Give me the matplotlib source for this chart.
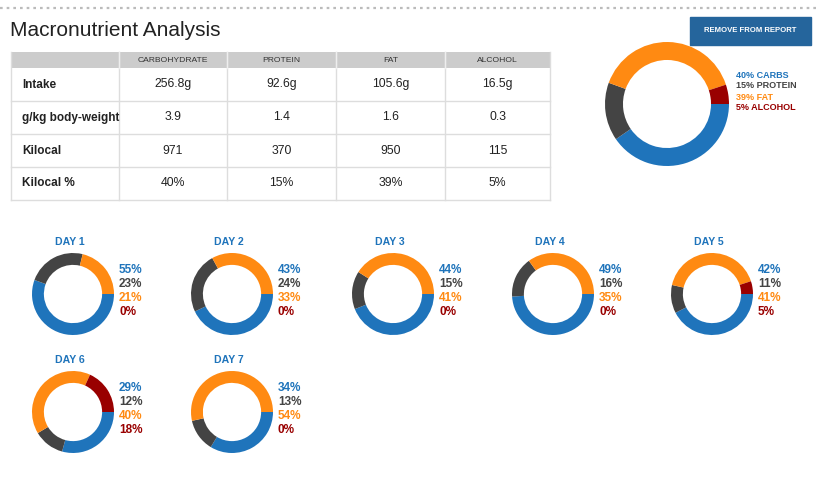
import matplotlib
matplotlib.use("Agg")
import matplotlib.pyplot as plt
from matplotlib.patches import Rectangle

plt.rcParams['font.family'] = ['Liberation Sans', 'DejaVu Sans']

# --- data ---
macros = ["CARBOHYDRATE", "PROTEIN", "FAT", "ALCOHOL"]
row_labels = ["Intake", "g/kg body-weight", "Kilocal", "Kilocal %"]
intake = ["256.8g", "92.6g", "105.6g", "16.5g"]
per_kg = ["3.9", "1.4", "1.6", "0.3"]
kilocal = ["971", "370", "950", "115"]
kilocal_pct = [40, 15, 39, 5]
legend_names = ["CARBS", "PROTEIN", "FAT", "ALCOHOL"]

day_labels = ["DAY 1", "DAY 2", "DAY 3", "DAY 4", "DAY 5", "DAY 6", "DAY 7"]
carbs_pct = [55, 43, 44, 49, 42, 29, 34]
protein_pct = [23, 24, 15, 16, 11, 12, 13]
fat_pct = [21, 33, 41, 35, 41, 40, 54]
alcohol_pct = [0, 0, 0, 0, 5, 18, 0]

COLORS = ["#1f74bb", "#444444", "#ff8a12", "#990000"]
W, H = 819, 484

fig = plt.figure(figsize=(W / 100, H / 100), dpi=100)
ax = fig.add_axes([0, 0, 1, 1])
ax.set_xlim(0, W)
ax.set_ylim(H, 0)
ax.axis('off')


def pix_axes(x, y, w, h):
    return fig.add_axes([x / W, 1 - (y + h) / H, w / W, h / H])


def donut(cx, cy, r, values):
    a = pix_axes(cx - r, cy - r, 2 * r, 2 * r)
    a.pie(values, colors=COLORS, startangle=0, counterclock=False,
          wedgeprops=dict(width=0.29, linewidth=0))
    a.set_xlim(-1, 1)
    a.set_ylim(-1, 1)
    a.axis('off')


# top dotted rule
ax.plot([0, W], [8, 8], color="#bbbbbb", lw=1.6, ls=(0, (1.2, 1.8)))

# title
ax.text(10, 31, "Macronutrient Analysis", fontsize=15, color="#222222",
        va='center', ha='left')

# button
ax.add_patch(Rectangle((690, 17), 121, 28, color="#25659c"))
ax.text(750.5, 31, "REMOVE FROM REPORT", fontsize=5.6, color="white",
        fontweight='bold', ha='center', va='center')

# table
col_edges = [11, 119, 227, 336, 445, 550]
top, head_bot, row_h = 52, 68, 33
ax.add_patch(Rectangle((11, top), 539, head_bot - top, color="#cccccc", lw=0))
for i, name in enumerate(macros):
    xc = (col_edges[i + 1] + col_edges[i + 2]) / 2
    ax.text(xc, (top + head_bot) / 2 + 0.5, name, fontsize=6.1, color="#333333",
            ha='center', va='center')
rows = [intake, per_kg, kilocal, [f"{v}%" for v in kilocal_pct]]
for r, (lab, vals) in enumerate(zip(row_labels, rows)):
    yc = head_bot + row_h * r + row_h / 2
    ax.text(22, yc, lab, fontsize=8.5, fontweight='bold', color="#222222",
            ha='left', va='center')
    for i, v in enumerate(vals):
        xc = (col_edges[i + 1] + col_edges[i + 2]) / 2
        ax.text(xc, yc, v, fontsize=8.8, color="#222222", ha='center', va='center')
    yb = head_bot + row_h * (r + 1)
    ax.plot([11, 550], [yb, yb], color="#dddddd", lw=1)
for x in col_edges:
    ax.plot([x, x], [top, head_bot + 4 * row_h], color="#dddddd", lw=1)
for x in col_edges[1:-1]:
    ax.plot([x, x], [top, head_bot], color="#eeeeee", lw=1)

# main donut + legend
donut(667, 104, 62, kilocal_pct)
for i, (p, n) in enumerate(zip(kilocal_pct, legend_names)):
    ax.text(736, 75 + i * 11, f"{p}% {n}", fontsize=6.5, fontweight='bold',
            color=COLORS[i], ha='left', va='center')

# daily donuts
xs = [73, 232, 393, 553, 712, 73, 232]
ys = [294, 294, 294, 294, 294, 412, 412]
for d in range(7):
    cx, cy = xs[d], ys[d]
    vals = [carbs_pct[d], protein_pct[d], fat_pct[d], alcohol_pct[d]]
    donut(cx, cy, 41, vals)
    ax.text(cx - 3, cy - 52, day_labels[d], fontsize=7.6, fontweight='bold',
            color=COLORS[0], ha='center', va='center')
    for i, v in enumerate(vals):
        ax.text(cx + 46, cy - 24 + i * 14, f"{v}%", fontsize=8.5, fontweight='bold',
                color=COLORS[i], ha='left', va='center')

fig.savefig("out.png", dpi=100, facecolor="white")
